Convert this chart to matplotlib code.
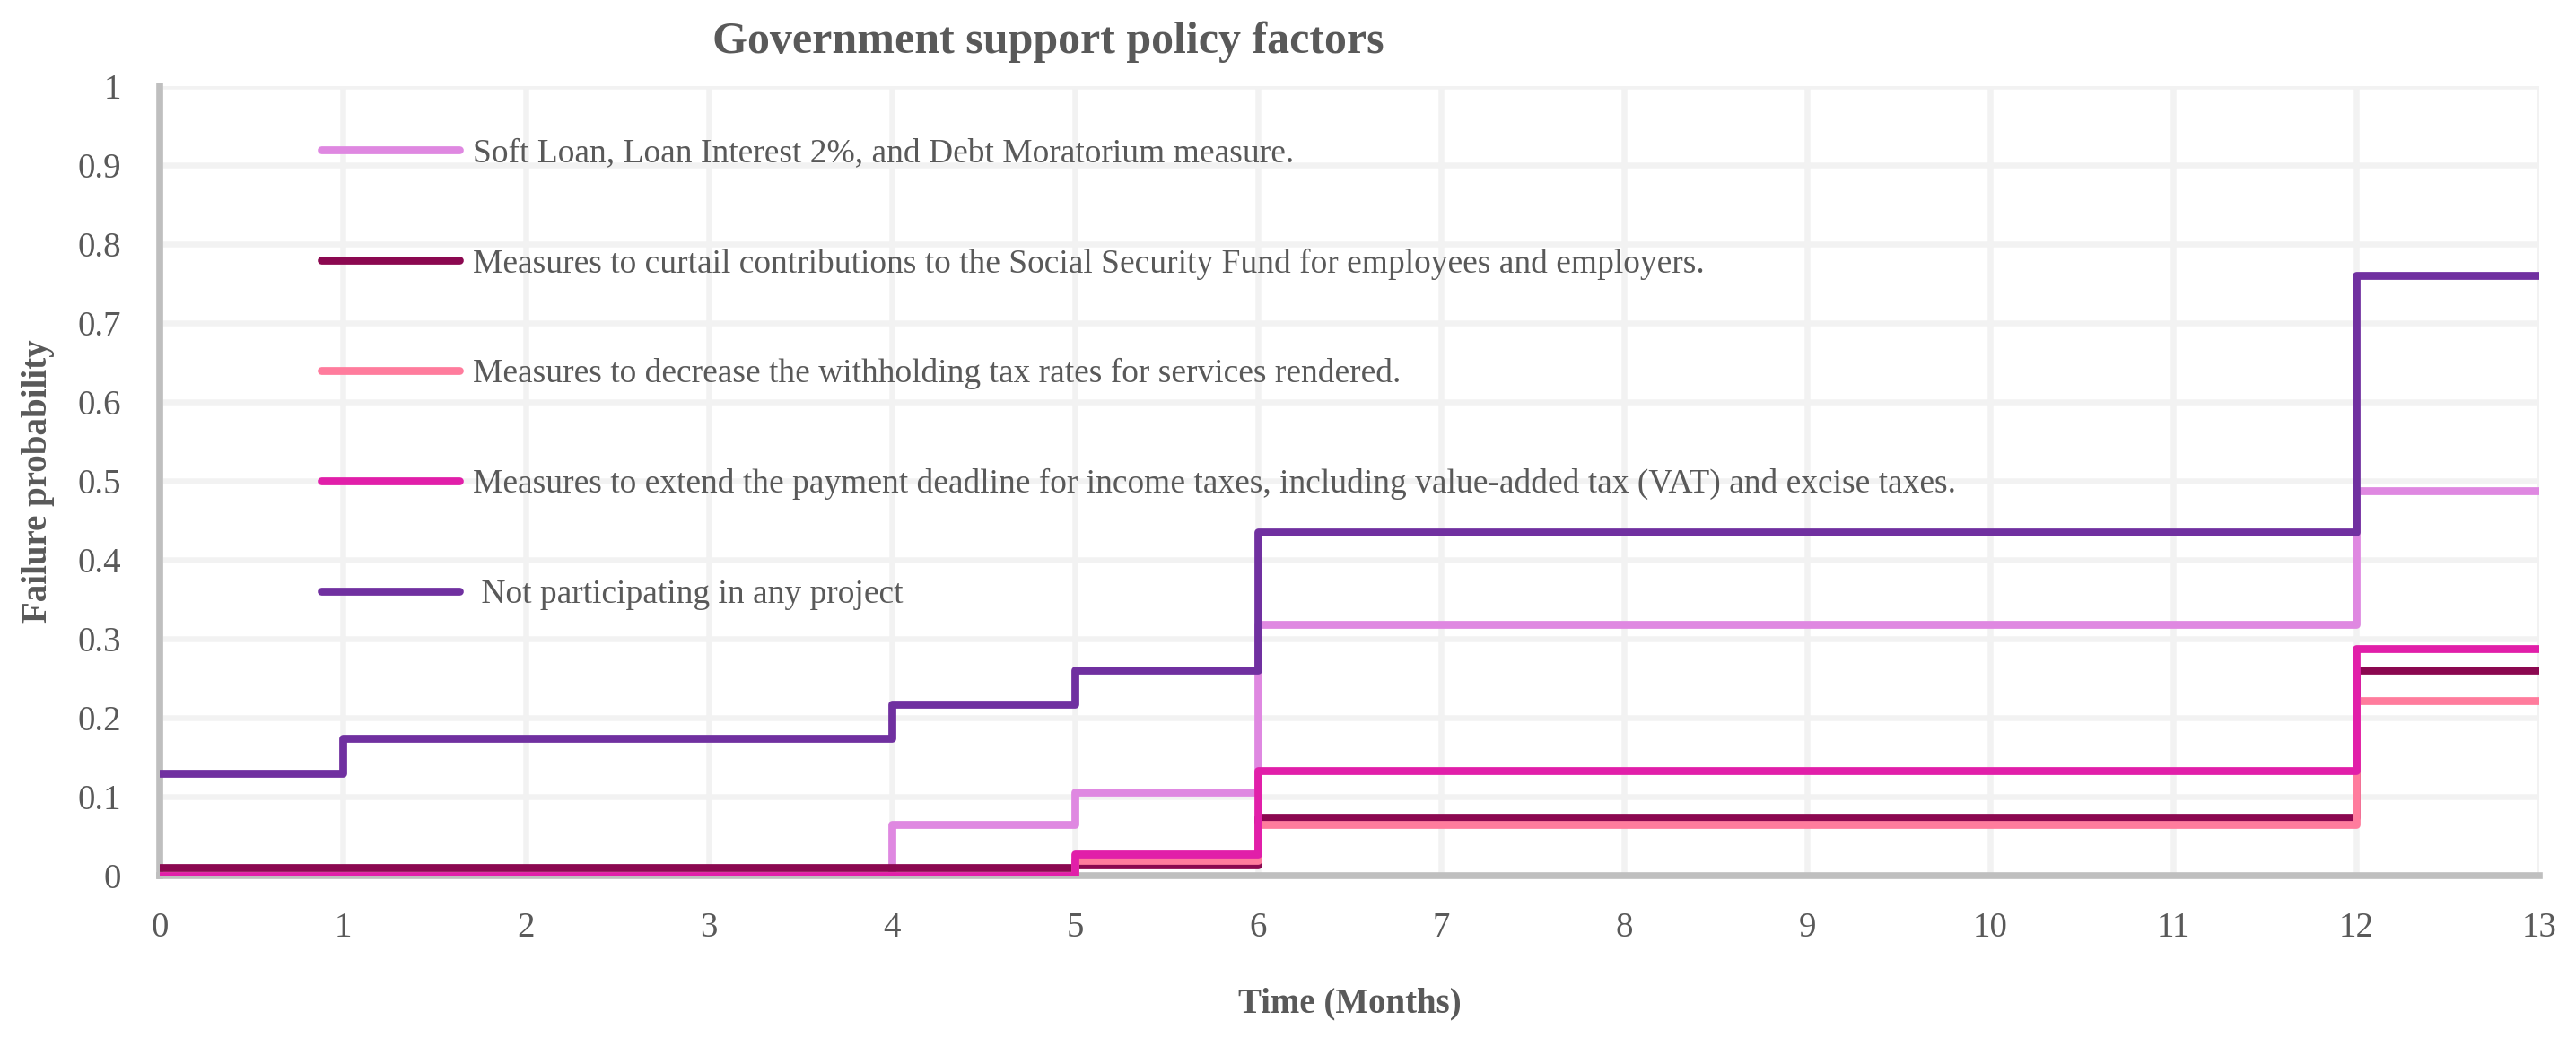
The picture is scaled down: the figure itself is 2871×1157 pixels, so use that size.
import numpy as np
import matplotlib
matplotlib.use('Agg')
import matplotlib.pyplot as plt

# step data (month at which each level starts, last value repeated to close at 13)
months = [0, 1, 4, 5, 6, 12, 13]

soft_loan = [0.0, 0.0, 0.065, 0.106, 0.318, 0.488, 0.488]
social_sec = [0.01, 0.01, 0.01, 0.014, 0.074, 0.26, 0.26]
withholding = [0.0, 0.0, 0.0, 0.019, 0.065, 0.222, 0.222]
extend_tax = [0.0, 0.0, 0.0, 0.027, 0.133, 0.288, 0.288]
not_partic = [0.13, 0.174, 0.217, 0.26, 0.435, 0.76, 0.76]

labels = [
    "Soft Loan, Loan Interest 2%, and Debt Moratorium measure.",
    "Measures to curtail contributions to the Social Security Fund for employees and employers.",
    "Measures to decrease the withholding tax rates for services rendered.",
    "Measures to extend the payment deadline for income taxes, including value-added tax (VAT) and excise taxes.",
    " Not participating in any project",
]
series = [soft_loan, social_sec, withholding, extend_tax, not_partic]
colors = ['#DF88E1', '#8B0850', '#FF7C9D', '#E11FA9', '#7030A0']

x_ticks = list(range(0, 14))
y_ticks = [0, 0.1, 0.2, 0.3, 0.4, 0.5, 0.6, 0.7, 0.8, 0.9, 1]
y_ticklabels = ['0', '0.1', '0.2', '0.3', '0.4', '0.5', '0.6', '0.7', '0.8', '0.9', '1']

plt.rcParams['font.family'] = ['Liberation Serif', 'DejaVu Serif']
txt = '#595959'

fig = plt.figure(figsize=(28.71, 11.57), dpi=100)
ax = fig.add_axes([0.062, 0.1564, 0.9238, 0.7606])

for s, c, l in zip(series, colors, labels):
    ax.step(months, s, where='post', color=c, lw=6.3, label=l,
            solid_capstyle='round', solid_joinstyle='round', zorder=3)

ax.set_xlim(0, 13)
ax.set_ylim(0, 1)
ax.set_xticks(x_ticks)
ax.set_yticks(y_ticks)
ax.set_yticklabels(y_ticklabels)
ax.tick_params(axis='both', length=0, labelsize=28, colors=txt)
ax.tick_params(axis='x', pad=29)
ax.tick_params(axis='y', pad=31)
ax.grid(True, color='#F2F2F2', lw=4.7, zorder=0)
ax.set_axisbelow(True)
for sp in ['top', 'right']:
    ax.spines[sp].set_visible(False)
for sp in ['left', 'bottom']:
    ax.spines[sp].set_color('#BFBFBF')
    ax.spines[sp].set_linewidth(5.5)
    ax.spines[sp].set_zorder(2)

ax.set_xlabel('Time (Months)', fontsize=28, fontweight='bold', color=txt, labelpad=34)
ax.set_ylabel('Failure probability', fontsize=28, fontweight='bold', color=txt, labelpad=18)
fig.text(0.407, 0.96, 'Government support policy factors', fontsize=36,
         fontweight='bold', color=txt, ha='center', va='center')

leg = ax.legend(loc='upper left', bbox_to_anchor=(0.068, 0.934), frameon=False,
                fontsize=27, handlelength=4.1, handletextpad=0.4, labelspacing=2.34,
                borderpad=0, borderaxespad=0)
for t in leg.get_texts():
    t.set_color(txt)

fig.savefig('out.png', dpi=100)
